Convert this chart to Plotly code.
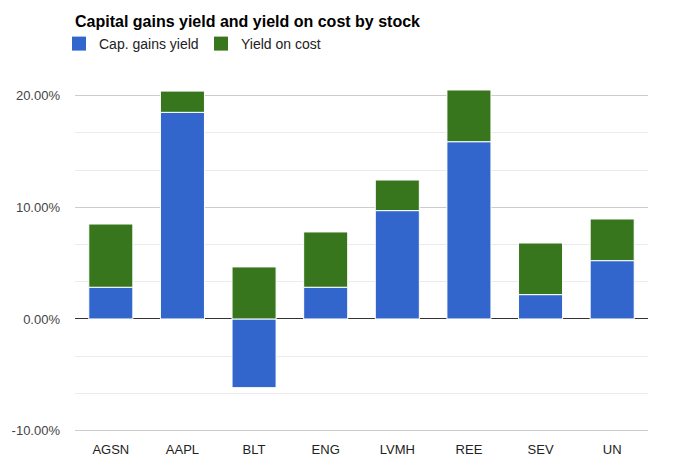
import plotly.graph_objects as go

stocks = ["AGSN", "AAPL", "BLT", "ENG", "LVMH", "REE", "SEV", "UN"]
cap_gains = [2.84, 18.5, -6.15, 2.84, 9.7, 15.87, 2.18, 5.22]
yield_on_cost = [5.66, 1.9, 4.66, 4.95, 2.74, 4.63, 4.62, 3.73]
y_ticks = [-10, 0, 10, 20]
y_tick_labels = ["-10.00%", "0.00%", "10.00%", "20.00%"]
series_names = ["Cap. gains yield", "Yield on cost"]
series_colors = ["#3366cc", "#38761d"]

# page body has an 8px margin: work in page coords, then subtract it
OFF = 8
W, H = 673 - OFF, 474 - OFF
PL, PR, PT, PB = 75, 648, 71, 434  # plot area in page coords

fig = go.Figure()
fig.add_trace(go.Bar(
    x=stocks, y=cap_gains, name=series_names[0], showlegend=False,
    marker=dict(color=series_colors[0], line=dict(color="white", width=1)),
))
fig.add_trace(go.Bar(
    x=stocks, y=yield_on_cost, name=series_names[1], showlegend=False,
    marker=dict(color=series_colors[1], line=dict(color="white", width=1)),
    base=[max(c, 0) for c in cap_gains],
))
for n, c in zip(series_names, series_colors):
    fig.add_trace(go.Scatter(
        x=[None], y=[None], mode="markers", name=n,
        marker=dict(symbol="square", size=14, color=c),
    ))

fig.update_layout(
    barmode="overlay",
    bargap=0.385,
    width=W, height=H,
    margin=dict(l=PL - OFF, r=673 - PR, t=PT - OFF, b=474 - PB, autoexpand=False),
    paper_bgcolor="white", plot_bgcolor="white",
    font=dict(family="Liberation Sans, Arial, sans-serif", size=13, color="#222"),
    title=dict(
        text="<b>Capital gains yield and yield on cost by stock</b>",
        x=(75 - OFF) / W, xanchor="left", xref="container",
        y=1 - (21 - OFF) / H, yanchor="middle", yref="container",
        font=dict(size=16, color="#000"),
    ),
    legend=dict(
        orientation="h", x=(59 - OFF) / W, xanchor="left",
        y=1 - (44 - OFF) / H, yanchor="middle",
        xref="container", yref="container",
        font=dict(size=14, color="#222"),
        traceorder="normal", itemwidth=30,
        entrywidth=97, entrywidthmode="pixels",
    ),
    showlegend=True,
)
fig.update_xaxes(showgrid=False, showline=False, ticks="", tickfont=dict(size=13, color="#222"),
                 ticklabelstandoff=6)
fig.update_yaxes(
    range=[-10.3, 22.2],
    tickvals=y_ticks, ticktext=y_tick_labels,
    showgrid=True, gridcolor="#cccccc", gridwidth=1,
    zeroline=True, zerolinecolor="#333333", zerolinewidth=1,
    minor=dict(tickvals=[-6.667, -3.333, 3.333, 6.667, 13.333, 16.667], showgrid=True, gridcolor="#ebebeb", gridwidth=1),
    tickfont=dict(size=13, color="#444"),
    ticklabelstandoff=14,
)
fig.write_html("out.html")
